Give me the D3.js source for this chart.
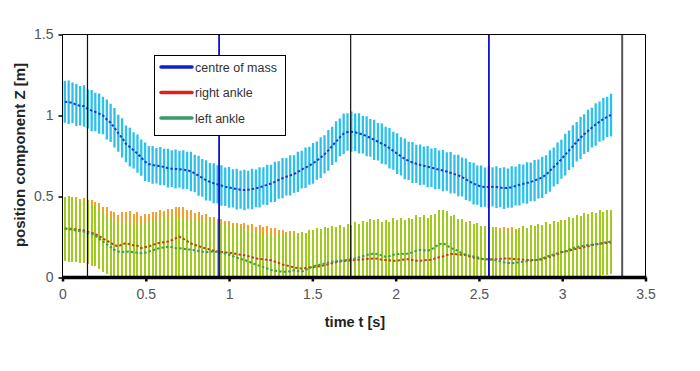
<!DOCTYPE html>
<html><head><meta charset="utf-8">
<script src="https://cdn.jsdelivr.net/npm/d3@7"></script>
<style>body{margin:0;background:#fff}svg{display:block}</style>
</head><body><svg id="c" width="700" height="371"></svg>
<script>
const time=[0.014,0.037,0.060,0.083,0.106,0.129,0.152,0.175,0.197,0.220,
0.243,0.266,0.289,0.312,0.335,0.358,0.381,0.404,0.427,0.450,
0.473,0.496,0.518,0.541,0.564,0.587,0.610,0.633,0.656,0.679,
0.702,0.725,0.748,0.771,0.794,0.817,0.839,0.862,0.885,0.908,
0.931,0.954,0.977,1.000,1.023,1.046,1.069,1.092,1.115,1.138,
1.161,1.183,1.206,1.229,1.252,1.275,1.298,1.321,1.344,1.367,
1.390,1.413,1.436,1.459,1.482,1.504,1.527,1.550,1.573,1.596,
1.619,1.642,1.665,1.688,1.711,1.734,1.757,1.780,1.803,1.826,
1.848,1.871,1.894,1.917,1.940,1.963,1.986,2.009,2.032,2.055,
2.078,2.101,2.124,2.147,2.169,2.192,2.215,2.238,2.261,2.284,
2.307,2.330,2.353,2.376,2.399,2.422,2.445,2.468,2.490,2.513,
2.536,2.559,2.582,2.605,2.628,2.651,2.674,2.697,2.720,2.743,
2.766,2.789,2.811,2.834,2.857,2.880,2.903,2.926,2.949,2.972,
2.995,3.018,3.041,3.064,3.087,3.110,3.132,3.155,3.178,3.201,
3.224,3.247,3.270,3.293];

const comMean=[1.085,1.082,1.078,1.065,1.060,1.058,1.040,1.030,1.022,1.012,
1.000,0.975,0.955,0.925,0.890,0.862,0.825,0.805,0.785,0.765,
0.740,0.715,0.700,0.695,0.690,0.688,0.682,0.675,0.672,0.670,
0.668,0.665,0.662,0.655,0.642,0.628,0.615,0.600,0.590,0.582,
0.575,0.568,0.560,0.556,0.550,0.546,0.542,0.540,0.542,0.546,
0.550,0.556,0.565,0.572,0.580,0.590,0.602,0.613,0.622,0.630,
0.638,0.652,0.666,0.678,0.690,0.705,0.722,0.740,0.760,0.785,
0.812,0.838,0.865,0.888,0.898,0.900,0.896,0.890,0.882,0.872,
0.862,0.850,0.838,0.826,0.814,0.798,0.782,0.765,0.748,0.732,
0.720,0.710,0.702,0.695,0.690,0.684,0.678,0.672,0.665,0.660,
0.654,0.646,0.638,0.630,0.620,0.606,0.592,0.580,0.570,0.562,
0.558,0.558,0.560,0.558,0.555,0.552,0.552,0.558,0.565,0.572,
0.578,0.584,0.590,0.598,0.608,0.618,0.635,0.658,0.682,0.705,
0.730,0.758,0.785,0.810,0.838,0.862,0.885,0.905,0.925,0.945,
0.962,0.978,0.992,1.003];

const comSd=[0.130,0.134,0.126,0.130,0.122,0.128,0.120,0.127,0.119,0.124,
0.116,0.123,0.118,0.122,0.114,0.121,0.113,0.120,0.112,0.118,
0.112,0.119,0.111,0.117,0.110,0.118,0.112,0.119,0.113,0.120,
0.114,0.121,0.115,0.122,0.115,0.123,0.116,0.124,0.117,0.124,
0.118,0.125,0.119,0.126,0.118,0.126,0.118,0.125,0.117,0.125,
0.116,0.124,0.116,0.124,0.116,0.124,0.116,0.124,0.116,0.124,
0.116,0.124,0.117,0.125,0.117,0.126,0.118,0.126,0.118,0.126,
0.118,0.126,0.117,0.125,0.116,0.124,0.116,0.124,0.116,0.124,
0.116,0.124,0.116,0.124,0.117,0.125,0.117,0.126,0.118,0.126,
0.118,0.126,0.118,0.126,0.118,0.127,0.119,0.127,0.119,0.127,
0.119,0.128,0.120,0.128,0.120,0.128,0.121,0.129,0.121,0.129,
0.121,0.129,0.121,0.129,0.121,0.129,0.121,0.128,0.120,0.128,
0.120,0.128,0.120,0.128,0.120,0.128,0.120,0.128,0.121,0.129,
0.121,0.129,0.122,0.130,0.122,0.130,0.123,0.131,0.123,0.131,
0.124,0.132,0.124,0.132];

const rightMean=[0.304,0.300,0.302,0.296,0.294,0.290,0.283,0.276,0.268,0.255,
0.240,0.228,0.215,0.200,0.192,0.205,0.212,0.205,0.198,0.196,
0.182,0.188,0.192,0.200,0.210,0.214,0.218,0.222,0.230,0.242,
0.252,0.240,0.225,0.210,0.200,0.195,0.185,0.180,0.172,0.165,
0.160,0.158,0.155,0.153,0.150,0.145,0.140,0.138,0.132,0.125,
0.118,0.115,0.112,0.110,0.106,0.098,0.090,0.080,0.075,0.068,
0.062,0.058,0.056,0.058,0.062,0.064,0.067,0.070,0.076,0.082,
0.088,0.094,0.098,0.102,0.104,0.105,0.108,0.110,0.112,0.114,
0.116,0.118,0.115,0.110,0.108,0.106,0.104,0.104,0.108,0.112,
0.112,0.108,0.104,0.104,0.106,0.108,0.110,0.118,0.125,0.130,
0.138,0.145,0.145,0.142,0.140,0.138,0.130,0.124,0.118,0.114,
0.112,0.112,0.112,0.113,0.115,0.117,0.118,0.116,0.113,0.112,
0.110,0.108,0.108,0.108,0.108,0.112,0.120,0.128,0.135,0.145,
0.155,0.160,0.166,0.172,0.178,0.182,0.188,0.194,0.200,0.204,
0.208,0.211,0.214,0.216];

const rightSd=[0.195,0.200,0.192,0.198,0.190,0.200,0.194,0.202,0.197,0.205,
0.198,0.206,0.196,0.204,0.195,0.202,0.194,0.204,0.196,0.206,
0.198,0.206,0.198,0.204,0.195,0.203,0.195,0.202,0.190,0.196,
0.186,0.196,0.192,0.204,0.200,0.208,0.202,0.210,0.204,0.210,
0.200,0.204,0.192,0.196,0.186,0.194,0.188,0.198,0.192,0.204,
0.196,0.206,0.198,0.206,0.198,0.208,0.204,0.212,0.208,0.216,
0.212,0.218,0.212,0.218,0.210,0.216,0.206,0.212,0.202,0.210,
0.200,0.208,0.200,0.208,0.200,0.208,0.200,0.210,0.202,0.208,
0.200,0.208,0.200,0.210,0.202,0.208,0.200,0.210,0.202,0.208,
0.200,0.208,0.200,0.210,0.202,0.208,0.200,0.210,0.202,0.208,
0.196,0.202,0.194,0.202,0.194,0.202,0.194,0.202,0.194,0.202,
0.194,0.202,0.192,0.198,0.188,0.196,0.186,0.196,0.188,0.196,
0.184,0.194,0.186,0.196,0.188,0.196,0.188,0.196,0.186,0.194,
0.186,0.194,0.186,0.194,0.186,0.194,0.186,0.194,0.186,0.194,
0.186,0.194,0.186,0.194];

const leftMean=[0.300,0.298,0.295,0.290,0.286,0.283,0.274,0.268,0.258,0.240,
0.222,0.205,0.188,0.170,0.160,0.158,0.159,0.160,0.156,0.152,
0.150,0.153,0.160,0.168,0.176,0.182,0.186,0.190,0.188,0.182,
0.180,0.178,0.174,0.172,0.168,0.163,0.160,0.158,0.160,0.158,
0.159,0.155,0.148,0.140,0.132,0.122,0.115,0.108,0.100,0.090,
0.080,0.072,0.064,0.055,0.046,0.042,0.038,0.036,0.035,0.038,
0.044,0.040,0.036,0.045,0.058,0.068,0.075,0.080,0.086,0.092,
0.097,0.100,0.104,0.106,0.108,0.112,0.118,0.125,0.132,0.138,
0.144,0.148,0.145,0.135,0.128,0.132,0.140,0.145,0.146,0.145,
0.148,0.155,0.165,0.170,0.168,0.165,0.172,0.190,0.205,0.211,
0.200,0.182,0.175,0.162,0.150,0.140,0.135,0.130,0.125,0.118,
0.113,0.112,0.110,0.106,0.100,0.094,0.090,0.088,0.090,0.095,
0.098,0.100,0.104,0.107,0.110,0.118,0.128,0.136,0.142,0.150,
0.158,0.162,0.172,0.180,0.188,0.192,0.196,0.200,0.202,0.206,
0.210,0.214,0.218,0.222];

const leftSd=[0.200,0.205,0.198,0.190,0.196,0.188,0.192,0.186,0.190,0.180,
0.186,0.178,0.184,0.172,0.180,0.170,0.182,0.176,0.186,0.174,
0.188,0.178,0.190,0.176,0.186,0.180,0.192,0.184,0.194,0.178,
0.188,0.180,0.186,0.176,0.190,0.182,0.194,0.186,0.196,0.182,
0.190,0.180,0.188,0.178,0.190,0.182,0.194,0.186,0.198,0.190,
0.204,0.196,0.210,0.204,0.220,0.214,0.228,0.222,0.234,0.226,
0.240,0.230,0.244,0.232,0.238,0.224,0.232,0.218,0.226,0.212,
0.222,0.210,0.220,0.208,0.222,0.210,0.224,0.208,0.218,0.204,
0.216,0.206,0.218,0.208,0.224,0.210,0.226,0.212,0.224,0.210,
0.220,0.206,0.218,0.206,0.216,0.204,0.214,0.200,0.212,0.206,
0.210,0.198,0.212,0.200,0.210,0.198,0.212,0.200,0.210,0.198,
0.206,0.194,0.202,0.190,0.200,0.188,0.200,0.194,0.210,0.200,
0.218,0.206,0.222,0.208,0.218,0.204,0.212,0.196,0.204,0.190,
0.200,0.188,0.202,0.190,0.200,0.186,0.202,0.190,0.200,0.188,
0.204,0.192,0.200,0.196];

const markerTimes=[0.15,0.94,1.73,2.56,3.36];
const markerKinds=["black","blue","black","blue","grey"];
const xTicks=[0,0.5,1,1.5,2,2.5,3,3.5];
const yTicks=[0,0.5,1,1.5];
const seriesNames=["centre of mass","right ankle","left ankle"];

const svg=d3.select("#c");
const L=62.5,R=645.5,T=34.5,B=277.5;
const x=d3.scaleLinear().domain([0,3.5]).range([L,R]);
const y=d3.scaleLinear().domain([0,1.5]).range([B,T]);

svg.append("defs").append("clipPath").attr("id","clip")
  .append("rect").attr("x",L).attr("y",T).attr("width",R-L).attr("height",B-T);
const plot=svg.append("g").attr("clip-path","url(#clip)");

function bars(mean,sd,color,w,crisp){
  plot.append("g").attr("shape-rendering",crisp?"crispEdges":"auto")
    .selectAll("line").data(time).join("line")
    .attr("x1",(d)=>x(d)).attr("x2",(d)=>x(d))
    .attr("y1",(d,i)=>y(mean[i]+sd[i])).attr("y2",(d,i)=>y(mean[i]-sd[i]))
    .attr("stroke",color).attr("stroke-width",w);
}
bars(comMean,comSd,"#2cc0ea",2.3,false);
bars(rightMean,rightSd,"#f4a12c",2,true);
bars(leftMean,leftSd,"#9fcc1c",2,true);

function meanLine(mean,color){
  plot.append("path").datum(time)
    .attr("d",d3.line().x((d)=>x(d)).y((d,i)=>y(mean[i])))
    .attr("fill","none").attr("stroke",color).attr("stroke-width",2)
    .attr("stroke-dasharray","2.5,2");
}
meanLine(comMean,"#1a3ccc");
meanLine(rightMean,"#d2361a");
meanLine(leftMean,"#3c9a58");

const mcol={black:"#111",blue:"#1010d0",grey:"#555"};
svg.append("g").selectAll("line").data(markerTimes).join("line")
  .attr("x1",(d)=>x(d)).attr("x2",(d)=>x(d)).attr("y1",T).attr("y2",B)
  .attr("stroke",(d,i)=>mcol[markerKinds[i]])
  .attr("stroke-width",(d,i)=>markerKinds[i]==="black"?1.2:(markerKinds[i]==="blue"?1.8:2));

svg.append("line").attr("x1",L).attr("x2",R).attr("y1",T).attr("y2",T).attr("stroke","#000").attr("stroke-width",1);
svg.append("line").attr("x1",R).attr("x2",R).attr("y1",T).attr("y2",B).attr("stroke","#000").attr("stroke-width",1);

const xa=svg.append("g").attr("transform",`translate(0,${B})`)
  .call(d3.axisBottom(x).tickValues(xTicks).tickSize(4).tickPadding(8).tickFormat(d3.format("")));
xa.select(".domain").attr("stroke","#000").attr("stroke-width",3.5).attr("d",`M${L},0H${R+1}`);
xa.selectAll(".tick line").attr("stroke","#000").attr("stroke-width",2.5);
xa.selectAll("text").attr("font-family","Liberation Sans, Arial, sans-serif").attr("font-size",14).attr("fill","#555");

const ya=svg.append("g").attr("transform",`translate(${L},0)`)
  .call(d3.axisLeft(y).tickValues(yTicks).tickSize(4).tickPadding(5).tickFormat(d3.format("")));
ya.select(".domain").attr("stroke","#000").attr("stroke-width",1).attr("d",`M0,${T}V${B}`);
ya.selectAll(".tick line").attr("stroke","#000").attr("stroke-width",1.5);
ya.selectAll("text").attr("font-family","Liberation Sans, Arial, sans-serif").attr("font-size",14).attr("fill","#555");

svg.append("text").attr("x",355).attr("y",327).attr("text-anchor","middle")
  .attr("font-family","Liberation Sans, Arial, sans-serif").attr("font-weight","bold").attr("font-size",14.5).attr("fill","#222")
  .text("time t [s]");
svg.append("text").attr("transform","translate(25,155) rotate(-90)").attr("text-anchor","middle")
  .attr("font-family","Liberation Sans, Arial, sans-serif").attr("font-weight","bold").attr("font-size",15).attr("fill","#222")
  .text("position component Z [m]");

const lg=svg.append("g");
lg.append("rect").attr("x",154.5).attr("y",55.5).attr("width",131).attr("height",80)
  .attr("fill","#fff").attr("stroke","#000").attr("stroke-width",1);
const lcol=["#1020d0","#e0201a","#3a9a6a"];
seriesNames.forEach((n,i)=>{
  const yy=67+i*25.5;
  lg.append("line").attr("x1",161).attr("x2",192).attr("y1",yy).attr("y2",yy)
    .attr("stroke",lcol[i]).attr("stroke-width",3.5).attr("stroke-linecap","round");
  lg.append("text").attr("x",195).attr("y",yy+4.5)
    .attr("font-family","Liberation Sans, Arial, sans-serif").attr("font-size",12.5).attr("fill","#333")
    .text(n);
});
</script></body></html>
